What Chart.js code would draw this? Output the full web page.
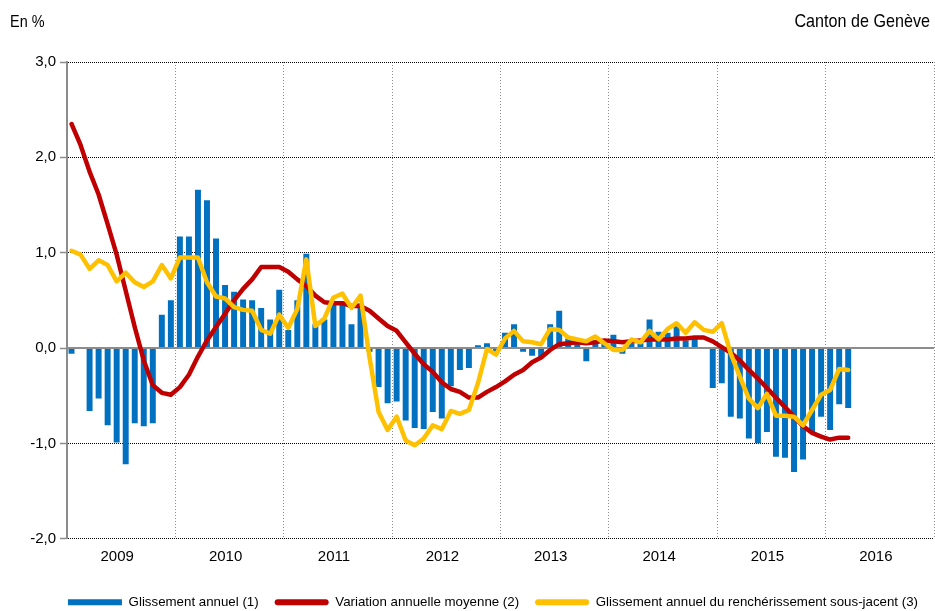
<!DOCTYPE html>
<html lang="fr">
<head>
<meta charset="utf-8">
<title>Indice des prix à la consommation - Canton de Genève</title>
<script src="https://cdn.jsdelivr.net/npm/chart.js@4.4.1/dist/chart.umd.min.js"></script>
<style>
  html, body { margin: 0; padding: 0; background: #fff; }
  #zone { width: 935px; height: 611px; }
</style>
</head>
<body>
<div id="zone"><canvas id="graphique" width="935" height="611"></canvas></div>
<script>
// Données mensuelles, de janvier 2009 à mars 2016 (en %)
const annees = ['2009', '2010', '2011', '2012', '2013', '2014', '2015', '2016'];

const glissementAnnuel = [
    -0.06, -0.01, -0.66, -0.53, -0.81, -0.99, -1.22, -0.79, -0.82, -0.79, 0.35, 0.50,
    1.17, 1.17, 1.66, 1.55, 1.15, 0.66, 0.59, 0.51, 0.50, 0.42, 0.30, 0.61,
    0.19, 0.50, 0.99, 0.25, 0.30, 0.47, 0.46, 0.25, 0.47, -0.04, -0.41, -0.58,
    -0.56, -0.76, -0.84, -0.85, -0.67, -0.74, -0.40, -0.23, -0.21, 0.03, 0.05, -0.05,
    0.16, 0.25, -0.04, -0.08, -0.10, 0.25, 0.39, 0.10, 0.08, -0.14, 0.08, 0.06,
    0.14, -0.06, 0.05, 0.05, 0.30, 0.17, 0.16, 0.24, 0.08, 0.11, -0.01, -0.42,
    -0.37, -0.72, -0.74, -0.95, -1.00, -0.88, -1.14, -1.15, -1.30, -1.17, -0.88, -0.72,
    -0.86, -0.59, -0.63
];

const variationMoyenne = [
    2.35, 2.13, 1.85, 1.61, 1.30, 0.98, 0.60, 0.22, -0.13, -0.39, -0.47, -0.49,
    -0.41, -0.28, -0.09, 0.08, 0.22, 0.36, 0.50, 0.62, 0.72, 0.85, 0.85, 0.85,
    0.80, 0.72, 0.65, 0.55, 0.48, 0.47, 0.47, 0.44, 0.44, 0.39, 0.31, 0.23,
    0.18, 0.06, -0.06, -0.17, -0.25, -0.36, -0.43, -0.46, -0.52, -0.52, -0.46, -0.41,
    -0.35, -0.28, -0.23, -0.15, -0.10, -0.02, 0.04, 0.05, 0.06, 0.05, 0.06, 0.08,
    0.07, 0.06, 0.07, 0.08, 0.09, 0.09, 0.09, 0.10, 0.10, 0.11, 0.11, 0.07,
    0.01, -0.05, -0.13, -0.23, -0.32, -0.42, -0.52, -0.62, -0.72, -0.82, -0.89, -0.93,
    -0.96, -0.94, -0.94
];

const sousJacent = [
    1.02, 0.98, 0.83, 0.92, 0.87, 0.70, 0.79, 0.69, 0.64, 0.70, 0.87, 0.73,
    0.95, 0.95, 0.95, 0.69, 0.54, 0.52, 0.43, 0.40, 0.39, 0.19, 0.15, 0.35,
    0.21, 0.41, 0.93, 0.23, 0.31, 0.53, 0.57, 0.42, 0.55, -0.10, -0.67, -0.86,
    -0.72, -0.97, -1.02, -0.95, -0.81, -0.85, -0.66, -0.69, -0.65, -0.37, -0.01, -0.07,
    0.10, 0.18, 0.07, 0.06, 0.04, 0.20, 0.19, 0.11, 0.09, 0.07, 0.12, 0.05,
    -0.02, -0.02, 0.09, 0.06, 0.18, 0.09, 0.20, 0.26, 0.16, 0.27, 0.19, 0.17,
    0.26, -0.06, -0.30, -0.53, -0.63, -0.48, -0.71, -0.71, -0.72, -0.81, -0.65, -0.49,
    -0.44, -0.22, -0.23
];

const libelles = [
    'Glissement annuel (1)',
    'Variation annuelle moyenne (2)',
    'Glissement annuel du renchérissement sous-jacent (3)'
];
const couleurs = ['#0070C0', '#C00000', '#FFC000'];

const POLICE = "'Liberation Sans', Arial, sans-serif";
Chart.defaults.font.family = POLICE;
Chart.defaults.color = '#000';

// mois i -> milieu du mois sur l'axe (en mois depuis janvier 2009)
const enPoints = serie => serie.map((v, i) => ({ x: i + 0.5, y: v }));

// ligne du zéro, pleine et grise, par-dessus les barres
const ligneZero = {
    id: 'ligneZero',
    afterDatasetDraw(chart, args) {
        if (args.index !== 0) return;
        const { ctx, chartArea, scales } = chart;
        const py = scales.y.getPixelForValue(0);
        ctx.save();
        ctx.strokeStyle = '#8c8c8c';
        ctx.lineWidth = 2;
        ctx.beginPath();
        ctx.moveTo(chartArea.left, py);
        ctx.lineTo(chartArea.right, py);
        ctx.stroke();
        ctx.restore();
    }
};

// textes d'en-tête (police resserrée comme l'original)
const entete = {
    id: 'entete',
    afterDraw(chart) {
        const ctx = chart.ctx;
        const serre = 0.85;
        ctx.save();
        ctx.fillStyle = '#000';
        ctx.textBaseline = 'middle';
        ctx.scale(serre, 1);
        ctx.font = '17px ' + POLICE;
        ctx.textAlign = 'left';
        ctx.fillText('En %', 10 / serre, 22);
        ctx.font = '19px ' + POLICE;
        ctx.textAlign = 'right';
        ctx.fillText('Canton de Genève', 930 / serre, 22);
        ctx.restore();
    }
};

const ctx = document.getElementById('graphique');

new Chart(ctx, {
    type: 'bar',
    data: {
        datasets: [{
            type: 'bar',
            label: libelles[0],
            data: enPoints(glissementAnnuel),
            backgroundColor: couleurs[0],
            barPercentage: 0.66,
            categoryPercentage: 1,
            order: 3
        }, {
            type: 'line',
            label: libelles[1],
            data: enPoints(variationMoyenne),
            borderColor: couleurs[1],
            backgroundColor: couleurs[1],
            borderWidth: 4.5,
            borderJoinStyle: 'round',
            borderCapStyle: 'round',
            pointRadius: 0,
            tension: 0,
            order: 2
        }, {
            type: 'line',
            label: libelles[2],
            data: enPoints(sousJacent),
            borderColor: couleurs[2],
            backgroundColor: couleurs[2],
            borderWidth: 4.5,
            borderJoinStyle: 'round',
            borderCapStyle: 'round',
            pointRadius: 0,
            tension: 0,
            order: 1
        }]
    },
    options: {
        responsive: false,
        animation: false,
        layout: { padding: { left: 0, right: 1, top: 62, bottom: -8 } },
        scales: {
            x: {
                type: 'linear',
                offset: false,
                min: 0,
                max: annees.length * 12,
                afterBuildTicks: scale => {
                    const t = [];
                    for (let v = 0; v <= annees.length * 12; v += 6) t.push({ value: v });
                    scale.ticks = t;
                },
                afterFit: scale => { scale.height = 41; },
                ticks: {
                    autoSkip: false,
                    maxRotation: 0,
                    padding: 0,
                    labelOffset: -4,
                    font: { size: 15, lineHeight: 2.4 },
                    callback: v => (v % 12 === 6 ? annees[(v - 6) / 12] : '')
                },
                grid: {
                    offset: false,
                    color: c => (c.tick && c.tick.value % 12 === 0 ? '#8c8c8c' : 'transparent'),
                    lineWidth: 1,
                    drawTicks: false
                },
                border: { display: false, dash: [1, 2] }
            },
            y: {
                min: -2,
                max: 3,
                afterFit: scale => { scale.width = 67; },
                ticks: {
                    stepSize: 1,
                    padding: 4,
                    font: { size: 15 },
                    callback: v => v.toFixed(1).replace('.', ',')
                },
                grid: {
                    color: c => (c.tick && c.tick.value === 0 ? 'transparent' : '#000'),
                    lineWidth: 1,
                    tickColor: '#8c8c8c',
                    tickLength: 7,
                    tickWidth: 1.5
                },
                border: { color: '#8c8c8c', width: 2, dash: [1, 1] }
            }
        },
        plugins: {
            legend: {
                position: 'bottom',
                align: 'end',
                labels: {
                    boxWidth: 54,
                    boxHeight: 6,
                    padding: 16,
                    useBorderRadius: true,
                    font: { size: 13.3 },
                    generateLabels: chart => chart.data.datasets.map((d, i) => ({
                        text: d.label,
                        fillStyle: couleurs[i],
                        strokeStyle: couleurs[i],
                        lineWidth: 0,
                        borderRadius: i === 0 ? 0 : 3,
                        datasetIndex: i,
                        hidden: false
                    }))
                }
            },
            tooltip: { enabled: false }
        }
    },
    plugins: [ligneZero, entete]
});
</script>
</body>
</html>
